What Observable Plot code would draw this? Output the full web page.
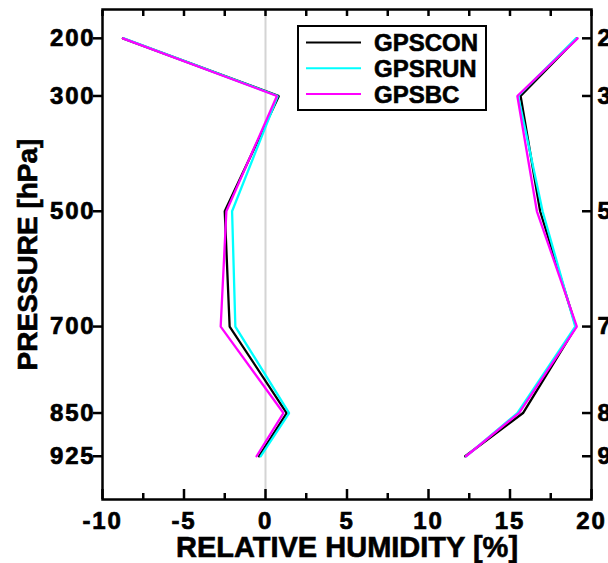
<!DOCTYPE html>
<html>
<head>
<meta charset="utf-8">
<script src="https://cdn.jsdelivr.net/npm/d3@7"></script>
<script src="https://cdn.jsdelivr.net/npm/@observablehq/plot@0.6"></script>
<style>
  html, body { margin: 0; padding: 0; background: #fff; overflow: hidden; }
  #chart svg { display: block; overflow: visible; }
  #chart g[aria-label$="tick label"] { font-size: 24px; font-weight: bold; }
  #chart g[aria-label$="tick label"] text { letter-spacing: 1.8px; stroke: black; stroke-width: 0.7px; }
  #chart .title text, #chart .legend text { stroke: black; stroke-width: 0.6px; }
</style>
</head>
<body>
<div id="chart"></div>
<script>
// ---- data ----
const pressure = [200, 300, 500, 700, 850, 925];
const seriesNames = ["GPSCON", "GPSRUN", "GPSBC"];
const seriesColors = ["#000000", "#00ffff", "#ff00ff"];

// mean difference (left profiles)
const gpsconBias = [-8.75, 0.82, -2.5, -2.2, 1.3, -0.4];
const gpsrunBias = [-8.7, 0.75, -2.05, -1.85, 1.45, -0.3];
const gpsbcBias  = [-8.75, 0.7, -2.4, -2.75, 1.1, -0.55];

// spread (right profiles)
const gpsconRms = [19.1, 15.65, 16.85, 19.05, 15.8, 12.25];
const gpsrunRms = [19.05, 15.5, 17.0, 19.0, 15.45, 12.3];
const gpsbcRms  = [19.15, 15.45, 16.65, 19.1, 15.55, 12.3];

const xMajorTicks = [-10, -5, 0, 5, 10, 15, 20];
const xMinorTicks = [-7.5, -2.5, 2.5, 7.5, 12.5, 17.5];
const xAllTicks = [-10, -7.5, -5, -2.5, 0, 2.5, 5, 7.5, 10, 12.5, 15, 17.5, 20];
const yTicks = [200, 300, 500, 700, 850, 925];

const xLabel = "RELATIVE HUMIDITY [%]";
const yLabel = "PRESSURE [hPa]";

// ---- build table ----
const profiles = [
  ["GPSCON", "bias", gpsconBias], ["GPSRUN", "bias", gpsrunBias], ["GPSBC", "bias", gpsbcBias],
  ["GPSCON", "rms", gpsconRms], ["GPSRUN", "rms", gpsrunRms], ["GPSBC", "rms", gpsbcRms]
];
const order = {GPSCON: 0, GPSRUN: 1, GPSBC: 2};
profiles.sort((a, b) => order[a[0]] - order[b[0]]);
const rows = [];
for (const [name, stat, vals] of profiles) {
  vals.forEach((v, i) => rows.push({series: name, key: name + "-" + stat, value: v, p: pressure[i]}));
}

// legend drawn inside frame
function legendMark() {
  return (index, scales, values, dims) => {
    const g = d3.create("svg:g").attr("class", "legend");
    const x0 = dims.marginLeft + 196, y0 = dims.marginTop + 17;
    g.append("rect").attr("x", x0).attr("y", y0).attr("width", 188).attr("height", 84)
      .attr("fill", "white").attr("stroke", "black").attr("stroke-width", 2);
    seriesNames.forEach((name, i) => {
      const yy = y0 + 16.5 + i * 25.7;
      g.append("line").attr("x1", x0 + 8).attr("x2", x0 + 63).attr("y1", yy).attr("y2", yy)
        .attr("stroke", seriesColors[i]).attr("stroke-width", 2);
      g.append("text").attr("x", x0 + 76).attr("y", yy).attr("dy", "0.36em")
        .attr("text-anchor", "start")
        .attr("font-size", 24).attr("font-weight", "bold").attr("fill", "black")
        .text(name);
    });
    return g.node();
  };
}

const axisFont = {fontSize: 24, fontWeight: "bold", strokeWidth: 2.5};

const chart = Plot.plot({
  width: 608,
  height: 563,
  marginLeft: 102,
  marginRight: 17,
  marginTop: 9,
  marginBottom: 64,
  style: {fontFamily: "'Liberation Sans', Arial, sans-serif", color: "black", background: "white"},
  x: {domain: [-10, 20]},
  y: {domain: [150, 1000], reverse: true},
  color: {domain: seriesNames, range: seriesColors},
  marks: [
    Plot.ruleX([0], {stroke: "#d4d4d4", strokeWidth: 2}),
    Plot.line(rows, {x: "value", y: "p", z: "key", stroke: "series", strokeWidth: 2.3, strokeLinejoin: "miter"}),
    Plot.frame({stroke: "black", strokeWidth: 2.5}),
    Plot.axisX({anchor: "bottom", ticks: xMajorTicks, tickSize: -10, tickPadding: 22, tickFormat: d => String(d), label: null, ...axisFont}),
    Plot.axisX({anchor: "bottom", ticks: xMinorTicks, tickSize: -6, tickFormat: () => "", label: null, strokeWidth: 2.5}),
    Plot.axisX({anchor: "top", ticks: xAllTicks, tickSize: -6, tickFormat: () => "", label: null, strokeWidth: 2.5}),
    Plot.axisY({anchor: "left", ticks: yTicks, tickSize: 9, tickPadding: -2, tickFormat: d => String(d), label: null, ...axisFont}),
    Plot.axisY({anchor: "right", ticks: yTicks, tickSize: -10, tickPadding: 16, tickFormat: d => String(d), label: null, ...axisFont}),
    Plot.text([yLabel], {text: d => d, frameAnchor: "left", textAnchor: "middle", rotate: -90, dx: -74, lineAnchor: "middle", fontSize: 28, fontWeight: "bold", className: "title"}),
    Plot.text([xLabel], {text: d => d, frameAnchor: "bottom", dy: 48, lineAnchor: "middle", fontSize: 29, fontWeight: "bold", className: "title"}),
    legendMark()
  ]
});
document.getElementById("chart").append(chart);
</script>
</body>
</html>
